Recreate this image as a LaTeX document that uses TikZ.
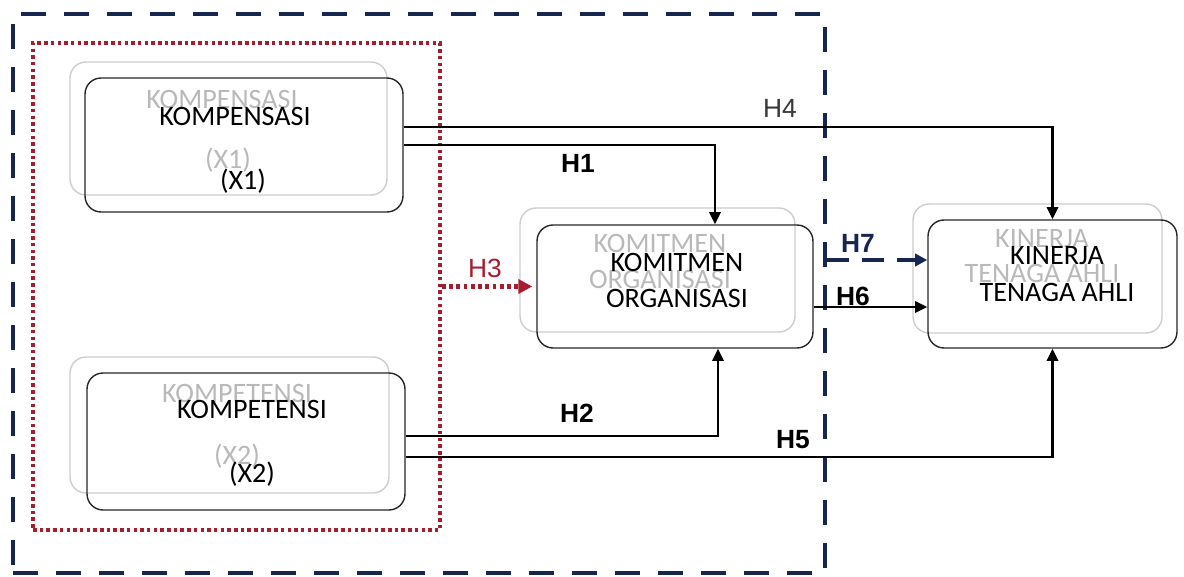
\documentclass[tikz,border=0pt]{standalone}
\usepackage{fontspec}
\setmainfont{Carlito}
\newfontfamily\arialf{Liberation Sans}
\usetikzlibrary{arrows.meta}
\definecolor{navy}{RGB}{22,38,80}
\definecolor{dred}{RGB}{165,30,45}
\definecolor{ghostc}{RGB}{205,205,205}
\definecolor{ghostt}{RGB}{185,185,185}
\definecolor{hgray}{RGB}{55,55,55}
\tikzset{
  boxb/.style={draw=black!85, line width=0.8pt, rounded corners=0.32cm, inner sep=0pt},
  boxg/.style={draw=ghostc, line width=0.8pt, rounded corners=0.32cm, inner sep=0pt},
  txtb/.style={font=\fontsize{16}{18}\selectfont, text=black, align=center, inner sep=0pt},
  txtg/.style={font=\fontsize{16}{18}\selectfont, text=ghostt, align=center, inner sep=0pt},
  conn/.style={line width=1.3pt, -{Triangle[length=7pt,width=6.5pt]}},
  hlab/.style={font=\arialf\bfseries\fontsize{15}{17}\selectfont, inner sep=0pt},
  outerbox/.style={draw=navy, line width=2.6pt, dash pattern=on 0.5cm off 0.36cm, inner sep=0pt},
  redbox/.style={draw=dred, line width=2.3pt, dash pattern=on 0.07cm off 0.064cm, inner sep=0pt},
}
\begin{document}
\begin{tikzpicture}[x=0.02cm, y=-0.02cm]
\useasboundingbox (0,0) rectangle (1184,577);
% frames
\node[outerbox, minimum width=16.24cm, minimum height=11.18cm] (outer) at (419,293.5) {};
\node[redbox, minimum width=8.14cm, minimum height=9.74cm] (red) at (236.5,286.5) {};
% ghost boxes
\node[boxg, minimum width=6.34cm, minimum height=2.66cm] (kpg) at (228.5,128.5) {};
\node[boxg, minimum width=6.38cm, minimum height=2.72cm] (ktg) at (229.5,425) {};
\node[boxg, minimum width=5.50cm, minimum height=2.48cm] (kog) at (657.5,270) {};
\node[boxg, minimum width=4.98cm, minimum height=2.58cm] (king) at (1037.5,268.5) {};
% ghost texts
\node[txtg] (kpgt1) at (222,99) {KOMPENSASI};
\node[txtg] (kpgt2) at (228,160) {(X1)};
\node[txtg] (ktgt1) at (237,393) {KOMPETENSI};
\node[txtg] (ktgt2) at (237,456) {(X2)};
\node[txtg] (kogt1) at (660,243) {KOMITMEN};
\node[txtg] (kogt2) at (660,279) {ORGANISASI};
\node[txtg] (kingt1) at (1042,239) {KINERJA};
\node[txtg] (kingt2) at (1042,273) {TENAGA AHLI};
% main boxes
\node[boxb, minimum width=6.36cm, minimum height=2.68cm] (kp) at (244,145) {};
\node[boxb, minimum width=6.36cm, minimum height=2.74cm] (kt) at (246,441.5) {};
\node[boxb, minimum width=5.52cm, minimum height=2.46cm] (ko) at (675,286.5) {};
\node[boxb, minimum width=4.98cm, minimum height=2.56cm] (kin) at (1052.5,284) {};
% main texts
\node[txtb] (kpt1) at (235,116) {KOMPENSASI};
\node[txtb] (kpt2) at (243,181) {(X1)};
\node[txtb] (ktt1) at (252,409) {KOMPETENSI};
\node[txtb] (ktt2) at (252,474) {(X2)};
\node[txtb] (kot1) at (677,262) {KOMITMEN};
\node[txtb] (kot2) at (677,298) {ORGANISASI};
\node[txtb] (kint1) at (1057,256) {KINERJA};
\node[txtb] (kint2) at (1057,292) {TENAGA AHLI};
% connectors
\draw[conn] ([yshift=0.36cm]kp.east) -| (kin.north);
\draw[conn] (kp.east) -| ([xshift=0.8cm]ko.north);
\draw[conn] ([yshift=0.11cm]kt.east) -| ([xshift=0.86cm]ko.south);
\draw[conn] ([yshift=-0.31cm]kt.east) -| (kin.south);
\coordinate (h6s) at ([yshift=-0.41cm]ko.east);
\draw[conn] (h6s) -- (h6s -| kin.west);
\coordinate (h7s) at (827,260);
\draw[draw=navy, line width=2.2pt, dash pattern=on 0.44cm off 0.26cm, -{Triangle[length=7pt,width=7pt]}] (h7s) -- (h7s -| kin.west);
\draw[draw=dred, line width=2.4pt, dash pattern=on 0.075cm off 0.07cm, -{Triangle[length=8pt,width=8pt]}] (red.east) -- ([xshift=-0.08cm]ko.west);
% labels
\node[hlab, font=\arialf\fontsize{15}{17}\selectfont, text=hgray] (h4) at (780,108) {H4};
\node[hlab] (h1) at (578,163) {H1};
\node[hlab, font=\arialf\fontsize{15}{17}\selectfont, text=dred] (h3) at (485,268) {H3};
\node[hlab, text=navy] (h7) at (858,243) {H7};
\node[hlab] (h6) at (853,296) {H6};
\node[hlab] (h2) at (577,413) {H2};
\node[hlab] (h5) at (793,440) {H5};
\end{tikzpicture}
\end{document}
